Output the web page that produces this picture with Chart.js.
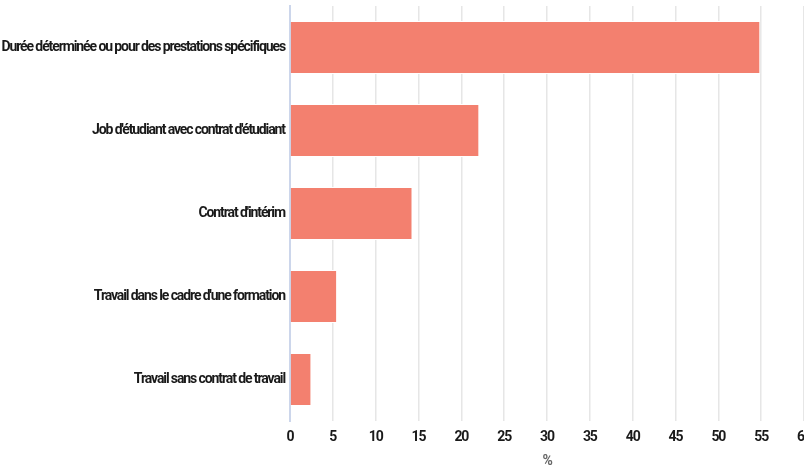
<!DOCTYPE html>
<html>
<head>
<meta charset="utf-8">
<script src="https://cdn.jsdelivr.net/npm/chart.js@4/dist/chart.umd.min.js"></script>
<style>
  html, body { margin: 0; padding: 0; background: #fff; overflow: hidden; }
  #wrap { width: 804px; height: 470px; }
</style>
</head>
<body>
<div id="wrap"><canvas id="chart" width="804" height="470"></canvas></div>
<script>
// Types de contrats, en % des jeunes travailleurs
const categories = [
  'Durée déterminée ou pour des prestations spécifiques',
  "Job d'étudiant avec contrat d'étudiant",
  "Contrat d'intérim",
  "Travail dans le cadre d'une formation",
  'Travail sans contrat de travail',
];
const shares = [54.9, 22.1, 14.3, 5.5, 2.5];
const axisTitle = '%';

const FONT = "Roboto, 'Liberation Sans', sans-serif";

// pas de police étroite installée : on resserre les lettres à la main
const narrowText = {
  id: 'narrowText',
  beforeDraw(chart) { chart.ctx.letterSpacing = '-1.1px'; },
};

new Chart(document.getElementById('chart'), {
  type: 'bar',
  data: {
    labels: categories,
    datasets: [{
      data: shares,
      backgroundColor: '#f3806f',
      borderColor: '#ffffff',
      borderWidth: 1,
      barPercentage: 0.64,
      categoryPercentage: 1,
    }],
  },
  options: {
    indexAxis: 'y',
    responsive: false,
    animation: false,
    layout: { padding: 0 },
    plugins: { legend: { display: false }, tooltip: { enabled: false } },
    scales: {
      x: {
        min: 0, max: 60,
        ticks: { stepSize: 5, color: '#1a1a1a', padding: 8, maxRotation: 0,
                 font: { family: FONT, size: 14, weight: 'bold' } },
        grid: { color: '#e6e6e6', lineWidth: 1.5, drawTicks: false },
        border: { display: false },
        title: { display: true, text: axisTitle, color: '#666666', padding: { top: 2, bottom: 0 },
                 font: { family: FONT, size: 14, weight: 'bold' } },
        afterFit: (s) => { s.paddingRight = 0; s.height = 49; },
      },
      y: {
        ticks: { color: '#1a1a1a', padding: 5,
                 font: { family: FONT, size: 14, weight: 'bold' } },
        grid: { display: false, drawTicks: false },
        border: { display: true, color: '#ccd6eb', width: 2 },
        afterFit: (s) => { s.width = 290; s.paddingTop = 6; },
      },
    },
  },
  plugins: [narrowText],
});
</script>
</body>
</html>
